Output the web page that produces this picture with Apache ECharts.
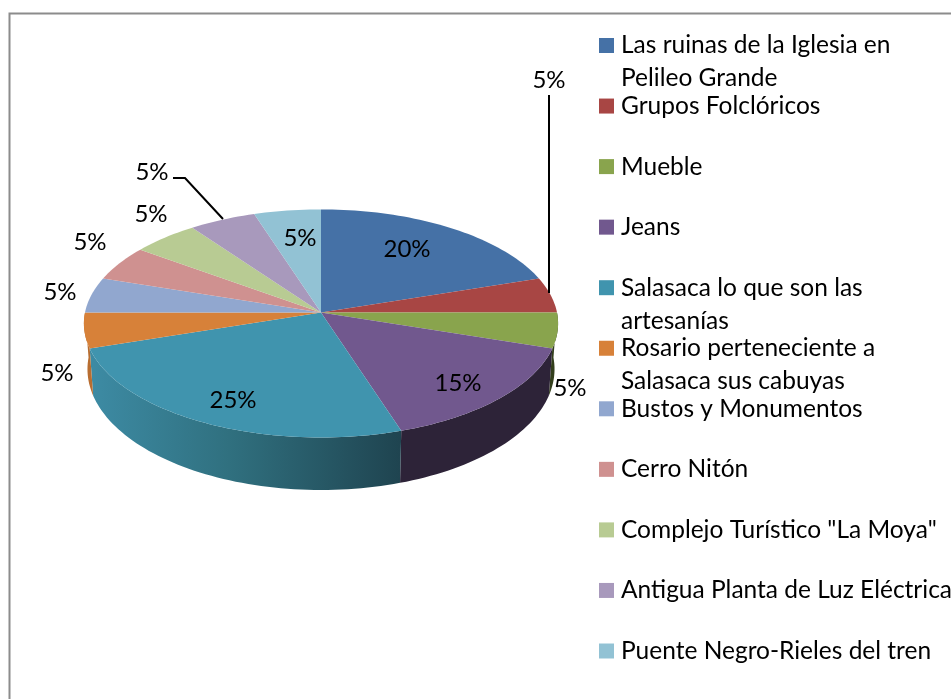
<!DOCTYPE html>
<html>
<head>
<meta charset="utf-8">
<style>html,body{margin:0;padding:0;background:#fff}#c{width:951px;height:699px}</style>
<script src="https://cdn.jsdelivr.net/npm/echarts@6/dist/echarts.min.js"></script>
</head>
<body>
<div id="c"></div>
<script>
const categories = ['Las ruinas de la Iglesia en\nPelileo Grande','Grupos Folclóricos','Mueble','Jeans','Salasaca lo que son las\nartesanías','Rosario perteneciente a\nSalasaca sus cabuyas','Bustos y Monumentos','Cerro Nitón','Complejo Turístico "La Moya"','Antigua Planta de Luz Eléctrica','Puente Negro-Rieles del tren'];
const values = [20,5,5,15,25,5,5,5,5,5,5];
const colors = ['#4571a6','#a84644','#89a44d','#71588e','#4094ae','#d78139','#91a7cf','#cf9190','#b8cb93','#a899bc','#92c2d4'];

// layout of the drawn pie (not data)
const CX = 321, CY = 312.5, RX = 236, RY = 113, PERSP = 0.096;
const BASE_DY = 45, BASE_SX = 0.985, BASE_SY = 1.06;
const labelCentres = [[549,80],[570,388],[458,383],[233,400],[57,373],[60,292],[90,242],[151,214],[152,172],[300,238]];
labelCentres.unshift([407,249]);
const leaders = [[[549,95],[549,293]],[[173,178],[185,178],[223,219]]];
const wallFill = {
  2: '#333f1c',
  3: '#2d2338',
  4: {type:'linear',global:true,x:90,y:0,x2:400,y2:0,colorStops:[{offset:0,color:'#3d8ba4'},{offset:0.45,color:'#30707f'},{offset:1,color:'#1f4450'}]},
  5: '#b86d30'
};

const total = values.reduce((a,b)=>a+b,0);
const starts = []; values.reduce((acc,v,i)=>{starts[i]=acc;return acc+v;},0);
const deg = v => v/total*360;

function topPt(a){
  const r = a*Math.PI/180, X = Math.sin(r), Y = -Math.cos(r), d = 1-PERSP*Y;
  return [CX+RX*X/d, CY+RY*Y/d];
}
function basePt(a){
  const p = topPt(a);
  return [CX+(p[0]-CX)*BASE_SX, CY+BASE_DY+(p[1]-CY)*BASE_SY];
}
function arc(fn,a0,a1){
  const n = Math.max(2,Math.ceil((a1-a0)/1.5)), out=[];
  for(let i=0;i<=n;i++) out.push(fn(a0+(a1-a0)*i/n));
  return out;
}

function renderWall(params,api){
  const i = params.dataIndex;
  const a0 = Math.max(deg(starts[i]),90), a1 = Math.min(deg(starts[i]+api.value(0)),270);
  if(a1<=a0) return null;
  const pts = arc(topPt,a0,a1).concat(arc(basePt,a0,a1).reverse());
  return {type:'polygon',shape:{points:pts},style:{fill:wallFill[i]||colors[i]},silent:true};
}
function renderTop(params,api){
  const i = params.dataIndex;
  const a0 = deg(starts[i]), a1 = deg(starts[i]+api.value(0));
  const pts = [[CX,CY]].concat(arc(topPt,a0,a1));
  return {type:'polygon',shape:{points:pts},style:{fill:colors[i]},silent:true};
}
function renderLabel(params,api){
  const i = params.dataIndex, c = labelCentres[i];
  return {type:'text',style:{text:Math.round(api.value(0)/total*100)+'%',x:c[0],y:c[1],align:'center',verticalAlign:'middle',fill:'#000',fontFamily:'Lato',fontSize:24},silent:true};
}
function renderLegend(params){
  const i = params.dataIndex, y = 45.5+i*60.55;
  return {type:'group',silent:true,children:[
    {type:'rect',shape:{x:599,y:y-7.5,width:15,height:15},style:{fill:colors[i]}},
    {type:'text',style:{text:categories[i],x:621,y:y-16.5,align:'left',verticalAlign:'top',lineHeight:33,fill:'#000',fontFamily:'Lato',fontSize:24.5}}
  ]};
}
const base = {type:'custom',coordinateSystem:'none',data:values.map(v=>[v]),silent:true,animation:false,clip:false};
const chart = echarts.init(document.getElementById('c'),null,{renderer:'canvas'});
chart.setOption({
  animation:false,
  backgroundColor:'#fff',
  tooltip:{show:false},
  graphic:[
    {type:'polyline',shape:{points:[[9.5,699],[9.5,13.5],[951,13.5]]},style:{stroke:'#8c8c8c',lineWidth:2,fill:null},z:0,silent:true},
    ...leaders.map(p=>({type:'polyline',shape:{points:p},style:{stroke:'#000',lineWidth:2,fill:null},z:50,silent:true}))
  ],
  series:[
    {...base,name:'paredes',z:2,renderItem:renderWall},
    {...base,name:'caras',z:3,renderItem:renderTop},
    {...base,name:'etiquetas',z:60,renderItem:renderLabel},
    {...base,name:'leyenda',z:60,renderItem:renderLegend}
  ]
});
</script>
</body>
</html>
